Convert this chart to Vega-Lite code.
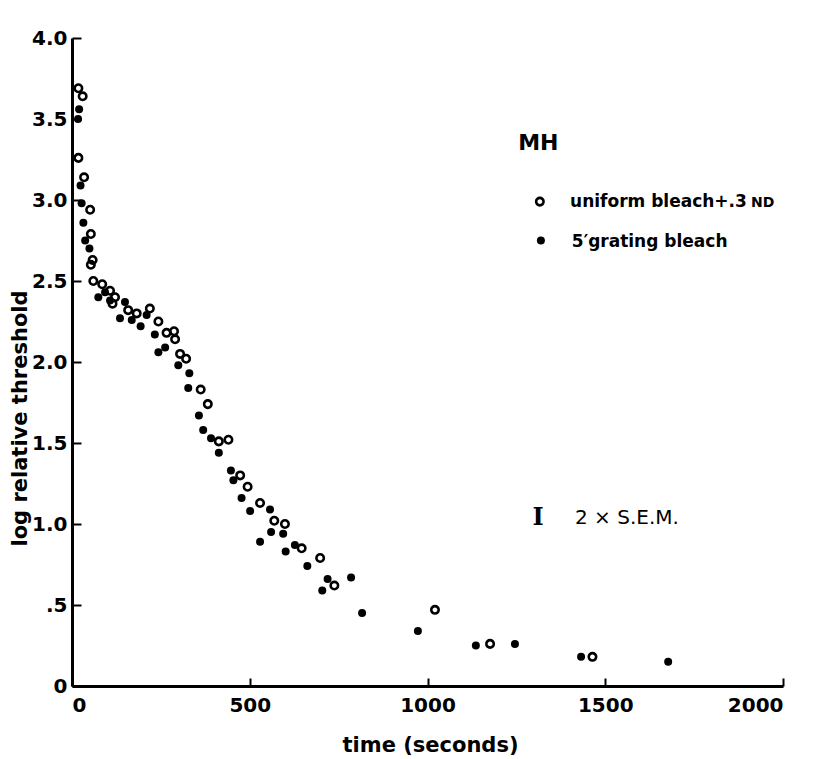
{
  "$schema": "https://vega.github.io/schema/vega-lite/v6.json",
  "width": 711,
  "height": 648,
  "autosize": {"type": "none"},
  "padding": {"left": 72, "top": 38, "right": 43, "bottom": 73},
  "background": "white",
  "config": {
    "view": {"stroke": null},
    "axis": {
      "grid": false,
      "domainColor": "black",
      "domainWidth": 3,
      "tickColor": "black",
      "tickWidth": 2,
      "labelFont": "DejaVu Sans",
      "labelFontWeight": "bold",
      "labelFontSize": 20,
      "labelColor": "black",
      "titleFont": "DejaVu Sans",
      "titleFontWeight": "bold",
      "titleFontSize": 21,
      "titleColor": "black"
    }
  },
  "resolve": {"axis": {"x": "independent", "y": "independent"}},
  "datasets": {
    "pts": [
      {"series": "uniform", "t": 18, "v": 3.69},
      {"series": "uniform", "t": 30, "v": 3.64},
      {"series": "uniform", "t": 18, "v": 3.26},
      {"series": "uniform", "t": 34, "v": 3.14},
      {"series": "uniform", "t": 51, "v": 2.94},
      {"series": "uniform", "t": 53, "v": 2.79},
      {"series": "uniform", "t": 58, "v": 2.63},
      {"series": "uniform", "t": 53, "v": 2.60},
      {"series": "uniform", "t": 60, "v": 2.50},
      {"series": "uniform", "t": 85, "v": 2.48},
      {"series": "uniform", "t": 107, "v": 2.44},
      {"series": "uniform", "t": 121, "v": 2.40},
      {"series": "uniform", "t": 114, "v": 2.36},
      {"series": "uniform", "t": 158, "v": 2.32},
      {"series": "uniform", "t": 182, "v": 2.30},
      {"series": "uniform", "t": 219, "v": 2.33},
      {"series": "uniform", "t": 243, "v": 2.25},
      {"series": "uniform", "t": 266, "v": 2.18},
      {"series": "uniform", "t": 287, "v": 2.19},
      {"series": "uniform", "t": 290, "v": 2.14},
      {"series": "uniform", "t": 304, "v": 2.05},
      {"series": "uniform", "t": 321, "v": 2.02},
      {"series": "uniform", "t": 362, "v": 1.83},
      {"series": "uniform", "t": 382, "v": 1.74},
      {"series": "uniform", "t": 413, "v": 1.51},
      {"series": "uniform", "t": 440, "v": 1.52},
      {"series": "uniform", "t": 473, "v": 1.30},
      {"series": "uniform", "t": 494, "v": 1.23},
      {"series": "uniform", "t": 529, "v": 1.13},
      {"series": "uniform", "t": 569, "v": 1.02},
      {"series": "uniform", "t": 599, "v": 1.00},
      {"series": "uniform", "t": 646, "v": 0.85},
      {"series": "uniform", "t": 698, "v": 0.79},
      {"series": "uniform", "t": 738, "v": 0.62},
      {"series": "uniform", "t": 1021, "v": 0.47},
      {"series": "uniform", "t": 1176, "v": 0.26},
      {"series": "uniform", "t": 1464, "v": 0.18},
      {"series": "grating", "t": 20, "v": 3.56},
      {"series": "grating", "t": 17, "v": 3.50},
      {"series": "grating", "t": 24, "v": 3.09},
      {"series": "grating", "t": 27, "v": 2.98},
      {"series": "grating", "t": 32, "v": 2.86},
      {"series": "grating", "t": 37, "v": 2.75},
      {"series": "grating", "t": 49, "v": 2.70},
      {"series": "grating", "t": 74, "v": 2.40},
      {"series": "grating", "t": 93, "v": 2.43},
      {"series": "grating", "t": 107, "v": 2.38},
      {"series": "grating", "t": 149, "v": 2.37},
      {"series": "grating", "t": 135, "v": 2.27},
      {"series": "grating", "t": 168, "v": 2.26},
      {"series": "grating", "t": 210, "v": 2.29},
      {"series": "grating", "t": 193, "v": 2.22},
      {"series": "grating", "t": 233, "v": 2.17},
      {"series": "grating", "t": 262, "v": 2.09},
      {"series": "grating", "t": 243, "v": 2.06},
      {"series": "grating", "t": 299, "v": 1.98},
      {"series": "grating", "t": 330, "v": 1.93},
      {"series": "grating", "t": 327, "v": 1.84},
      {"series": "grating", "t": 357, "v": 1.67},
      {"series": "grating", "t": 369, "v": 1.58},
      {"series": "grating", "t": 391, "v": 1.53},
      {"series": "grating", "t": 413, "v": 1.44},
      {"series": "grating", "t": 447, "v": 1.33},
      {"series": "grating", "t": 454, "v": 1.27},
      {"series": "grating", "t": 477, "v": 1.16},
      {"series": "grating", "t": 501, "v": 1.08},
      {"series": "grating", "t": 557, "v": 1.09},
      {"series": "grating", "t": 560, "v": 0.95},
      {"series": "grating", "t": 594, "v": 0.94},
      {"series": "grating", "t": 529, "v": 0.89},
      {"series": "grating", "t": 627, "v": 0.87},
      {"series": "grating", "t": 601, "v": 0.83},
      {"series": "grating", "t": 662, "v": 0.74},
      {"series": "grating", "t": 719, "v": 0.66},
      {"series": "grating", "t": 704, "v": 0.59},
      {"series": "grating", "t": 785, "v": 0.67},
      {"series": "grating", "t": 816, "v": 0.45},
      {"series": "grating", "t": 973, "v": 0.34},
      {"series": "grating", "t": 1136, "v": 0.25},
      {"series": "grating", "t": 1246, "v": 0.26},
      {"series": "grating", "t": 1432, "v": 0.18},
      {"series": "grating", "t": 1677, "v": 0.15}
    ]
  },
  "layer": [
    {
      "data": {"name": "pts"},
      "transform": [{"filter": "datum.series == 'uniform'"}],
      "mark": {"type": "point", "shape": "circle", "filled": false, "stroke": "black", "strokeWidth": 2.6, "size": 55, "opacity": 1},
      "encoding": {
        "x": {
          "field": "t", "type": "quantitative",
          "scale": {"domain": [0, 2000], "nice": false},
          "axis": {
            "orient": "bottom",
            "values": [0, 500, 1000, 1500, 2000],
            "format": "d",
            "tickSize": 0,
            "labelPadding": 9,
            "title": "time (seconds)",
            "titleX": 358, "titleY": 59, "titleBaseline": "middle", "titleAlign": "center"
          }
        },
        "y": {
          "field": "v", "type": "quantitative",
          "scale": {"domain": [0, 4], "nice": false},
          "axis": {
            "orient": "left",
            "values": [0, 0.5, 1, 1.5, 2, 2.5, 3, 3.5, 4],
            "labelExpr": "datum.value == 0 ? '0' : datum.value == 0.5 ? '.5' : format(datum.value, '.1f')",
            "tickSize": 0,
            "labelPadding": 5,
            "title": "log relative threshold",
            "titleX": -52, "titleY": 380, "titleAngle": -90, "titleBaseline": "middle", "titleAlign": "center"
          }
        }
      }
    },
    {
      "data": {"name": "pts"},
      "transform": [{"filter": "datum.series == 'grating'"}],
      "mark": {"type": "circle", "color": "black", "size": 64, "opacity": 1},
      "encoding": {
        "x": {
          "field": "t", "type": "quantitative",
          "scale": {"domain": [0, 2000], "nice": false},
          "axis": {
            "orient": "top",
            "offset": -648,
            "values": [0, 500, 1000, 1500, 2000],
            "domain": false,
            "labels": false,
            "tickSize": 8,
            "tickWidth": 2,
            "tickColor": "black",
            "title": null
          }
        },
        "y": {
          "field": "v", "type": "quantitative",
          "scale": {"domain": [0, 4], "nice": false},
          "axis": {
            "orient": "right",
            "offset": -711,
            "values": [0, 0.5, 1, 1.5, 2, 2.5, 3, 3.5, 4],
            "domain": false,
            "labels": false,
            "tickSize": 9,
            "tickWidth": 2,
            "tickColor": "black",
            "title": null
          }
        }
      }
    },
    {
      "data": {"values": [{"t": 1316, "v": 2.99}]},
      "mark": {"type": "point", "shape": "circle", "filled": false, "stroke": "black", "strokeWidth": 2.6, "size": 55, "opacity": 1},
      "encoding": {
        "x": {"field": "t", "type": "quantitative", "axis": null},
        "y": {"field": "v", "type": "quantitative", "axis": null}
      }
    },
    {
      "data": {"values": [{"t": 1319, "v": 2.75}]},
      "mark": {"type": "circle", "color": "black", "size": 64, "opacity": 1},
      "encoding": {
        "x": {"field": "t", "type": "quantitative", "axis": null},
        "y": {"field": "v", "type": "quantitative", "axis": null}
      }
    },
    {
      "data": {"values": [{"t": 1255, "v": 3.35, "label": "MH"}]},
      "mark": {"type": "text", "align": "left", "baseline": "middle", "font": "DejaVu Sans", "fontWeight": "bold", "fontSize": 22, "color": "black"},
      "encoding": {
        "x": {"field": "t", "type": "quantitative", "axis": null},
        "y": {"field": "v", "type": "quantitative", "axis": null},
        "text": {"field": "label"}
      }
    },
    {
      "data": {"values": [
        {"t": 1401, "v": 2.99, "label": "uniform bleach+.3"},
        {"t": 1406, "v": 2.74, "label": "5′grating bleach"}
      ]},
      "mark": {"type": "text", "align": "left", "baseline": "middle", "font": "DejaVu Sans", "fontWeight": "bold", "fontSize": 17, "color": "black"},
      "encoding": {
        "x": {"field": "t", "type": "quantitative", "axis": null},
        "y": {"field": "v", "type": "quantitative", "axis": null},
        "text": {"field": "label"}
      }
    },
    {
      "data": {"values": [{"t": 1910, "v": 2.98, "label": "ND"}]},
      "mark": {"type": "text", "align": "left", "baseline": "middle", "font": "DejaVu Sans", "fontWeight": "bold", "fontSize": 14, "color": "black"},
      "encoding": {
        "x": {"field": "t", "type": "quantitative", "axis": null},
        "y": {"field": "v", "type": "quantitative", "axis": null},
        "text": {"field": "label"}
      }
    },
    {
      "data": {"values": [{"t": 1311, "v": 1.04, "label": "I"}]},
      "mark": {"type": "text", "align": "center", "baseline": "middle", "font": "DejaVu Serif", "fontWeight": "bold", "fontSize": 24, "color": "black"},
      "encoding": {
        "x": {"field": "t", "type": "quantitative", "axis": null},
        "y": {"field": "v", "type": "quantitative", "axis": null},
        "text": {"field": "label"}
      }
    },
    {
      "data": {"values": [{"t": 1415, "v": 1.04, "label": "2 × S.E.M."}]},
      "mark": {"type": "text", "align": "left", "baseline": "middle", "font": "DejaVu Sans", "fontWeight": "normal", "fontSize": 20, "color": "black"},
      "encoding": {
        "x": {"field": "t", "type": "quantitative", "axis": null},
        "y": {"field": "v", "type": "quantitative", "axis": null},
        "text": {"field": "label"}
      }
    }
  ]
}
